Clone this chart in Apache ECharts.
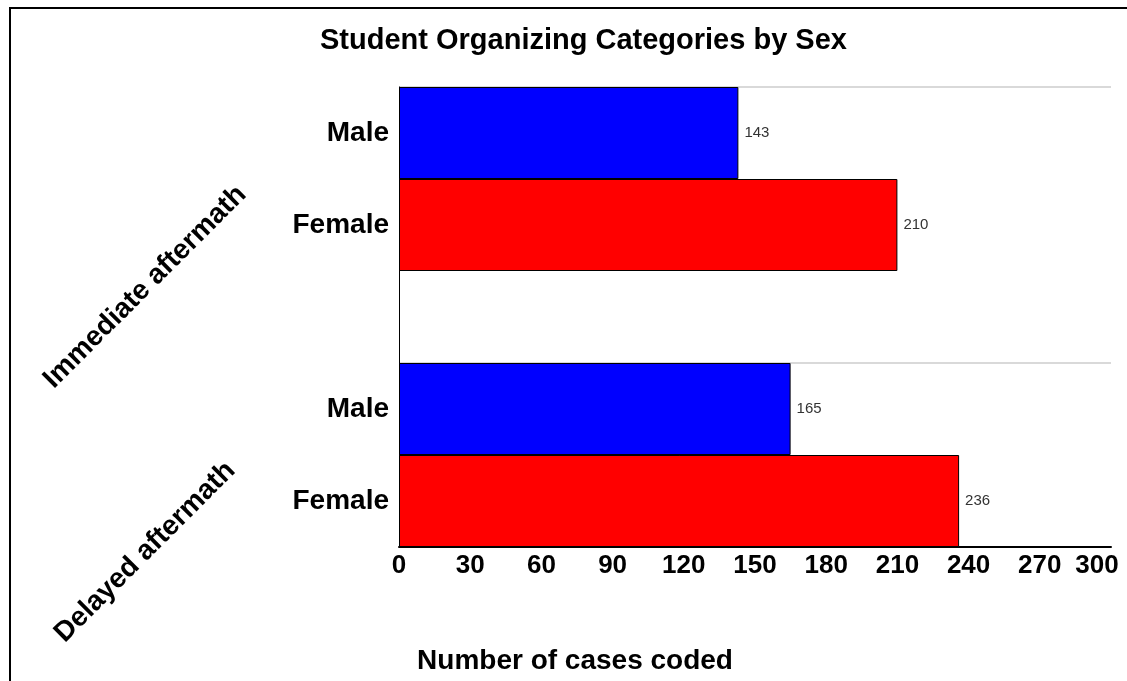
<!DOCTYPE html>
<html>
<head>
<meta charset="utf-8">
<script src="https://cdn.jsdelivr.net/npm/echarts@6/dist/echarts.min.js"></script>
<style>
html,body{margin:0;padding:0;background:#fff;}
#chart{width:1127px;height:681px;}
</style>
</head>
<body>
<div id="chart"></div>
<script>
const titleText = 'Student Organizing Categories by Sex';
const axisTitle = 'Number of cases coded';
const groups = ['Immediate aftermath', 'Delayed aftermath'];
const sexes = ['Male', 'Female'];
const maleCounts = [143, 165];
const femaleCounts = [210, 236];
const xMin = 0, xMax = 300, xStep = 30;

// build category slots: Male, Female, spacer, Male, Female
const categories = [];
const maleData = [];
const femaleData = [];
groups.forEach(function (g, gi) {
  if (gi > 0) { categories.push('spacer' + gi); maleData.push('-'); femaleData.push('-'); }
  categories.push(g + '|' + sexes[0]); maleData.push(maleCounts[gi]); femaleData.push('-');
  categories.push(g + '|' + sexes[1]); maleData.push('-'); femaleData.push(femaleCounts[gi]);
});
const groupStartIdx = [];
categories.forEach(function (c, i) { if (c.indexOf('|') > 0 && c.split('|')[1] === sexes[0]) groupStartIdx.push(i); });

const FONT = 'Arial, "Liberation Sans", sans-serif';
const chart = echarts.init(document.getElementById('chart'));
chart.setOption({
  animation: false,
  backgroundColor: '#fff',
  title: {
    text: titleText, left: 315, top: 21,
    textStyle: { fontFamily: FONT, fontSize: 29, fontWeight: 'bold', color: '#000' }
  },
  grid: { left: 399, right: 16, top: 87, bottom: 134, containLabel: false },
  xAxis: {
    type: 'value', min: xMin, max: xMax, interval: xStep,
    name: axisTitle, nameLocation: 'middle', nameGap: 100,
    nameTextStyle: { fontFamily: FONT, fontSize: 28, fontWeight: 'bold', color: '#000', padding: [0, 360, 0, 0] },
    axisLine: { show: true, lineStyle: { color: '#000', width: 2 } },
    axisTick: { show: false },
    splitLine: { show: false },
    axisLabel: {
      margin: 6, fontFamily: FONT, fontSize: 26, fontWeight: 'bold', color: '#000',
      formatter: function (v) { return v === xMax ? '{last|' + v + '}' : String(v); },
      rich: { last: { fontFamily: FONT, fontSize: 26, fontWeight: 'bold', color: '#000', padding: [0, 28, 0, 0] } }
    }
  },
  yAxis: {
    type: 'category', data: categories, inverse: true,
    axisLine: { show: true, lineStyle: { color: '#000', width: 1 } },
    axisTick: { show: false },
    splitLine: {
      show: true,
      interval: function (index) { return groupStartIdx.indexOf(index) >= 0; },
      lineStyle: { color: '#cccccc', width: 1.5 }
    },
    axisLabel: {
      margin: 10, fontFamily: FONT, fontSize: 28, fontWeight: 'bold', color: '#000',
      formatter: function (v) { return v.indexOf('|') > 0 ? v.split('|')[1] : ''; }
    }
  },
  series: [
    {
      name: sexes[0], type: 'bar', stack: 'all', data: maleData, barWidth: '100%',
      itemStyle: { color: '#0000ff', borderColor: '#000', borderWidth: 1 },
      label: { show: true, position: 'right', distance: 6, fontFamily: FONT, fontSize: 15, color: '#333' }
    },
    {
      name: sexes[1], type: 'bar', stack: 'all', data: femaleData, barWidth: '100%',
      itemStyle: { color: '#ff0000', borderColor: '#000', borderWidth: 1 },
      label: { show: true, position: 'right', distance: 6, fontFamily: FONT, fontSize: 15, color: '#333' }
    }
  ],
  graphic: [
    { type: 'rect', shape: { x: 10, y: 8, width: 1300, height: 900 }, style: { fill: null, stroke: '#000', lineWidth: 2 }, silent: true },
    { type: 'text', x: 145, y: 287, rotation: Math.PI / 4,
      style: { text: groups[0], fontFamily: FONT, fontSize: 28, fontWeight: 'bold', fill: '#000', align: 'center', verticalAlign: 'middle' } },
    { type: 'text', x: 145, y: 552, rotation: Math.PI / 4,
      style: { text: groups[1], fontFamily: FONT, fontSize: 28, fontWeight: 'bold', fill: '#000', align: 'center', verticalAlign: 'middle' } }
  ]
});
</script>
</body>
</html>
